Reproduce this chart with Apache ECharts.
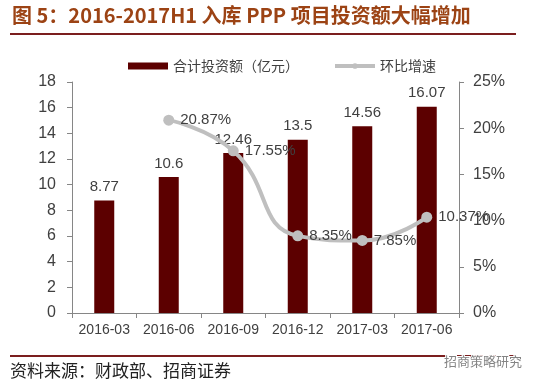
<!DOCTYPE html>
<html><head><meta charset="utf-8">
<script src="https://cdn.jsdelivr.net/npm/echarts@6/dist/echarts.min.js"></script>
<style>html,body{margin:0;padding:0;background:#fff}#c{width:536px;height:385px}</style>
</head><body><div id="c"></div>
<script>
var categories = ['2016-03','2016-06','2016-09','2016-12','2017-03','2017-06'];
var investment = [8.77, 10.6, 12.46, 13.5, 14.56, 16.07];
var growth = [null, 0.2087, 0.1755, 0.0835, 0.0785, 0.1037];
var growthLabels = ['', '20.87%', '17.55%', '8.35%', '7.85%', '10.37%'];
var leftTicks = {min: 0, max: 18, interval: 2};
var rightTicks = {min: 0, max: 0.25, interval: 0.05};
var barName = '合计投资额（亿元）';
var lineName = '环比增速';
var titleText = '图 5：2016-2017H1 入库 PPP 项目投资额大幅增加';
var sourceText = '资料来源：财政部、招商证券';
var watermarkText = '招商策略研究';

var F = '"Noto Sans CJK SC", "Liberation Sans", sans-serif';
var L = '"Liberation Sans", Arial, sans-serif';
var txt = '#404040';
var axisC = '#868686';
var chart = echarts.init(document.getElementById('c'), null, {renderer: 'canvas'});
chart.setOption({
  animation: false,
  textStyle: {fontFamily: F},
  legend: {
    top: 54, left: 123,
    itemGap: 34,
    textStyle: {fontSize: 14, color: txt, fontFamily: F},
    data: [
      {name: barName, icon: 'rect', itemStyle: {color: '#5C0000'}},
      {name: lineName, lineStyle: {width: 4, color: '#BFBFBF'}}
    ],
    itemWidth: 40, itemHeight: 7
  },
  grid: {left: 72, right: 77, top: 82, bottom: 72},
  xAxis: {
    type: 'category', data: categories,
    axisLine: {lineStyle: {color: axisC, width: 1}},
    axisTick: {show: true, alignWithLabel: false, length: 5, lineStyle: {color: axisC}},
    axisLabel: {color: txt, fontSize: 14, margin: 10, interval: 0, fontFamily: L}
  },
  yAxis: [
    {type: 'value', min: leftTicks.min, max: leftTicks.max, interval: leftTicks.interval,
     axisLine: {show: true, lineStyle: {color: axisC}},
     axisTick: {show: true, length: 5, lineStyle: {color: axisC}},
     splitLine: {show: false},
     axisLabel: {color: txt, fontSize: 16, margin: 16, fontFamily: L}},
    {type: 'value', min: rightTicks.min, max: rightTicks.max, interval: rightTicks.interval,
     axisLine: {show: true, lineStyle: {color: axisC}},
     axisTick: {show: true, length: 5, lineStyle: {color: axisC}},
     splitLine: {show: false},
     axisLabel: {color: txt, fontSize: 16, margin: 14, fontFamily: L,
       formatter: function(v){ return Math.round(v*100) + '%'; }}}
  ],
  series: [
    {name: barName, type: 'bar', data: investment, barWidth: 20, yAxisIndex: 0,
     itemStyle: {color: '#5C0000'},
     label: {show: true, position: 'top', color: txt, fontSize: 15, distance: 6, fontFamily: L}},
    {name: lineName, type: 'line', data: growth, yAxisIndex: 1, smooth: 0.5,
     connectNulls: false,
     symbol: 'circle', symbolSize: 11,
     lineStyle: {color: '#BFBFBF', width: 4},
     itemStyle: {color: '#BFBFBF'},
     label: {show: true, position: 'right', distance: 6, color: txt, fontSize: 15, fontFamily: L,
       formatter: function(p){ return growthLabels[p.dataIndex]; }}}
  ],
  graphic: [
    {type: 'text', left: 12, top: 5, style: {text: titleText, fill: '#9C4314', font: 'bold 20px ' + F}},
    {type: 'rect', shape: {x: 10, y: 33, width: 506, height: 2}, style: {fill: '#7B1E1E'}},
    {type: 'rect', shape: {x: 10, y: 355, width: 506, height: 2}, style: {fill: '#7B1E1E'}},
    {type: 'text', left: 10, top: 362, style: {text: sourceText, fill: '#222', font: '17px ' + F}},
    {type: 'text', left: 443, top: 354, z: 10, style: {text: watermarkText, fill: 'rgba(110,110,110,0.85)', font: '13px ' + F, stroke: '#fff', lineWidth: 2}}
  ]
});
</script></body></html>
